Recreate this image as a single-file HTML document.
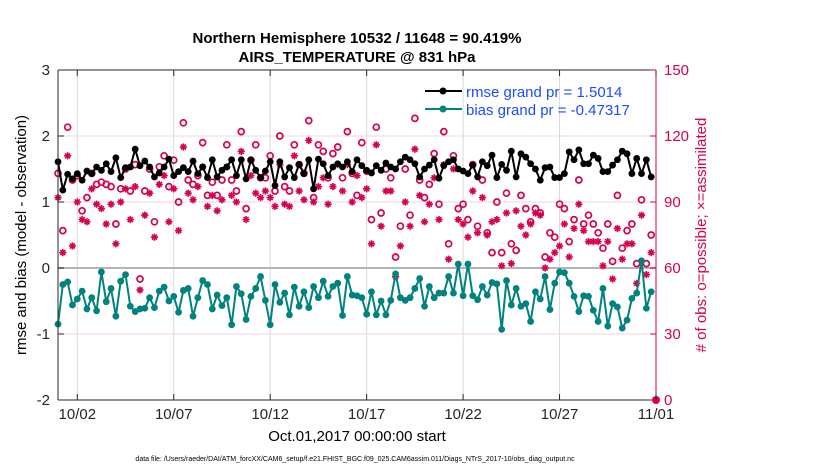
<!DOCTYPE html>
<html><head><meta charset="utf-8"><style>
body{margin:0;background:#fff;}
svg{display:block;font-family:"Liberation Sans",sans-serif;}
</style></head><body>
<svg id="chart" width="830" height="470" viewBox="0 0 830 470">
<text x="357" y="43" text-anchor="middle" font-size="15" font-weight="bold">Northern Hemisphere 10532 / 11648 = 90.419%</text>
<text x="357" y="62" text-anchor="middle" font-size="15" font-weight="bold">AIRS_TEMPERATURE @ 831 hPa</text>
<g id="grid"></g><g id="marks"></g><g id="axes"></g>
<text transform="translate(26,235) rotate(-90)" text-anchor="middle" font-size="15">rmse and bias (model - observation)</text>
<text transform="translate(706,235) rotate(-90)" text-anchor="middle" font-size="15" fill="#d6004f"># of obs: o=possible; ×=assimilated</text>
<text x="357" y="441" text-anchor="middle" font-size="15">Oct.01,2017 00:00:00 start</text>
<text x="355" y="461" text-anchor="middle" font-size="7">data file: /Users/raeder/DAI/ATM_forcXX/CAM6_setup/f.e21.FHIST_BGC.f09_025.CAM6assim.011/Diags_NTrS_2017-10/obs_diag_output.nc</text>
<g>
<line x1="425" y1="91" x2="462" y2="91" stroke="#000" stroke-width="2"/><circle cx="443" cy="91" r="3.5" fill="#000"/>
<text x="466" y="97" font-size="15" fill="#1a4dff">rmse grand pr = 1.5014</text>
<line x1="425" y1="109" x2="462" y2="109" stroke="#00827e" stroke-width="2"/><circle cx="443" cy="109" r="3.5" fill="#00827e"/>
<text x="466" y="115" font-size="15" fill="#1a4dff">bias grand pr = -0.47317</text>
</g>
</svg>
<script>
const xTickLabels = ["10/02","10/07","10/12","10/17","10/22","10/27","11/01"];
const xTickDays = [1,6,11,16,21,26,31];
const yLeftTicks = [3,2,1,0,-1,-2];
const yRightTicks = [150,120,90,60,30,0];
const rmse = [1.61,1.18,1.42,1.35,1.43,1.33,1.47,1.43,1.53,1.48,1.58,1.46,1.67,1.37,1.52,1.53,1.80,1.55,1.62,1.53,1.38,1.44,1.53,1.65,1.40,1.46,1.52,1.46,1.62,1.43,1.53,1.37,1.64,1.38,1.48,1.53,1.64,1.40,1.64,1.35,1.64,1.48,1.37,
1.47,1.61,1.25,1.61,1.38,1.52,1.37,1.57,1.43,1.64,1.20,1.65,1.58,1.40,1.53,1.58,1.53,1.61,1.46,1.64,1.55,1.48,1.44,1.55,1.48,1.59,1.53,1.50,1.61,1.68,1.64,1.58,1.38,1.50,1.56,1.64,1.36,1.55,1.61,1.64,1.50,
1.47,1.43,1.56,1.38,1.61,1.55,1.71,1.37,1.57,1.48,1.77,1.38,1.73,1.68,1.58,1.50,1.33,1.52,1.53,1.37,1.37,1.43,1.76,1.64,1.79,1.58,1.58,1.71,1.66,1.46,1.46,1.56,1.64,1.77,1.73,1.43,1.66,1.43,1.64,1.38];
const bias = [-0.85,-0.25,-0.21,-0.56,-0.47,-0.35,-0.62,-0.45,-0.65,-0.06,-0.51,-0.31,-0.73,-0.20,-0.10,-0.58,-0.66,-0.62,-0.61,-0.45,-0.60,-0.35,-0.29,-0.50,-0.43,-0.67,-0.34,-0.31,-0.73,-0.45,-0.19,-0.25,-0.62,-0.41,-0.57,-0.45,-0.86,-0.28,-0.39,-0.78,-0.43,-0.31,-0.13,
-0.49,-0.86,-0.25,-0.52,-0.38,-0.71,-0.29,-0.58,-0.36,-0.60,-0.28,-0.45,-0.20,-0.43,-0.28,-0.23,-0.72,-0.13,-0.41,-0.42,-0.45,-0.70,-0.36,-0.71,-0.50,-0.71,-0.49,-0.09,-0.45,-0.49,-0.45,-0.31,-0.16,-0.58,-0.28,-0.45,-0.38,-0.38,-0.13,-0.38,0.06,
-0.42,0.06,-0.42,-0.48,-0.28,-0.41,-0.22,-0.24,-0.93,-0.19,-0.56,-0.31,-0.58,-0.54,-0.81,-0.36,-0.47,-0.13,-0.63,-0.23,-0.06,-0.07,-0.23,-0.43,-0.66,-0.42,-0.43,-0.64,-0.81,-0.31,-0.88,-0.54,-0.59,-0.91,-0.79,-0.46,-0.38,0.11,-0.61,-0.36];
const possible = [103,77,124,100,102,86,92,103,98,99,98,97,80,96,105,95,107,55,95,105,81,106,111,97,109,90,126,100,98,102,117,93,99,93,100,116,100,95,122,87,109,116,101,
101,111,95,120,97,95,116,107,103,127,92,116,113,101,112,115,101,122,103,93,117,104,82,124,85,105,101,65,79,105,84,128,100,92,98,112,89,122,71,111,87,
89,82,107,79,100,76,67,90,67,94,71,68,93,87,81,87,85,65,76,74,89,87,72,82,100,80,84,80,76,69,80,63,93,69,77,80,62,91,62,75];
const assimilated = [92,67,111,70,90,82,81,96,89,87,80,89,71,90,96,82,97,50,84,94,74,98,102,81,96,77,115,94,91,97,106,88,93,86,91,106,93,90,113,82,102,94,92,
95,92,88,107,89,88,111,95,91,118,90,97,101,89,97,107,95,107,90,102,92,96,71,116,79,95,95,56,70,90,79,114,93,81,89,101,82,107,64,105,82,
80,74,95,76,92,75,81,82,61,85,62,86,79,75,80,85,84,60,64,67,70,80,65,78,89,77,72,72,72,61,72,55,78,64,71,71,53,84,57,67];

const L=58,R=656,T=70,B=400;
const xs=d=>L+(d/31)*(R-L);
const yl=v=>B-(v+2)/5*(B-T);
const yr=c=>B-c/150*(B-T);
const NS="http://www.w3.org/2000/svg";
function mk(tag,attrs,parent){const e=document.createElementNS(NS,tag);for(const k in attrs)e.setAttribute(k,attrs[k]);parent.appendChild(e);return e;}
const grid=document.getElementById('grid'),marks=document.getElementById('marks'),axes=document.getElementById('axes');
// grid
xTickDays.forEach(d=>{const g=mk('line',{x1:xs(d),x2:xs(d),y1:T,y2:B,stroke:'#d9d9d9','stroke-width':1},grid);

});
yRightTicks.forEach(c=>{const g=mk('line',{x1:L,x2:R,y1:yr(c),y2:yr(c),stroke:'#f2d6e0','stroke-width':1},grid);

});
const zl=mk('line',{x1:L,x2:R,y1:yl(0),y2:yl(0),stroke:'#b3b3b3','stroke-width':2},grid);


// obs counts
function star(cx,cy,p){const s=3.6,g=mk('g',{stroke:'#d6004f','stroke-width':1.6},p);
mk('line',{x1:cx-s,x2:cx+s,y1:cy,y2:cy},g);mk('line',{x1:cx,x2:cx,y1:cy-s,y2:cy+s},g);
mk('line',{x1:cx-s*0.7,x2:cx+s*0.7,y1:cy-s*0.7,y2:cy+s*0.7},g);mk('line',{x1:cx-s*0.7,x2:cx+s*0.7,y1:cy+s*0.7,y2:cy-s*0.7},g);return g;}
assimilated.forEach((c,i)=>{const g=star(xs(i*0.25),yr(c),marks);

});
possible.forEach((c,i)=>{const e=mk('circle',{cx:xs(i*0.25),cy:yr(c),r:3,fill:'none',stroke:'#d6004f','stroke-width':1.7},marks);

});
function series(arr,col,name){
 const p=mk('polyline',{points:arr.map((v,i)=>xs(i*0.25)+','+yl(v)).join(' '),fill:'none',stroke:col,'stroke-width':2},marks);
 
 
 arr.forEach((v,i)=>{const c=mk('circle',{cx:xs(i*0.25),cy:yl(v),r:3.4,fill:col},marks);
 
 });
}
series(rmse,'#000','rmse');
series(bias,'#00827e','bias');
const dm=mk('circle',{cx:R,cy:B,r:4,fill:'#d6004f'},marks);


// axes
mk('line',{x1:L,x2:R,y1:T,y2:T,stroke:'#262626','stroke-width':1},axes);
mk('line',{x1:L,x2:R,y1:B,y2:B,stroke:'#262626','stroke-width':1},axes);
mk('line',{x1:L,x2:L,y1:T,y2:B,stroke:'#262626','stroke-width':1},axes);
mk('line',{x1:R,x2:R,y1:T,y2:B,stroke:'#d6004f','stroke-width':1},axes);
xTickDays.forEach((d,i)=>{mk('line',{x1:xs(d),x2:xs(d),y1:B,y2:B-6,stroke:'#262626'},axes);mk('line',{x1:xs(d),x2:xs(d),y1:T,y2:T+6,stroke:'#262626'},axes);
const t=mk('text',{x:xs(d),y:B+19,'text-anchor':'middle','font-size':15,fill:'#262626'},axes);t.textContent=xTickLabels[i];

});
yLeftTicks.forEach(v=>{mk('line',{x1:L,x2:L+6,y1:yl(v),y2:yl(v),stroke:'#262626'},axes);
const t=mk('text',{x:L-8,y:yl(v)+5,'text-anchor':'end','font-size':15,fill:'#262626'},axes);t.textContent=v;

});
yRightTicks.forEach(c=>{mk('line',{x1:R,x2:R-6,y1:yr(c),y2:yr(c),stroke:'#d6004f'},axes);
const t=mk('text',{x:R+8,y:yr(c)+5,'text-anchor':'start','font-size':15,fill:'#d6004f'},axes);t.textContent=c;

});
</script>
</body></html>
